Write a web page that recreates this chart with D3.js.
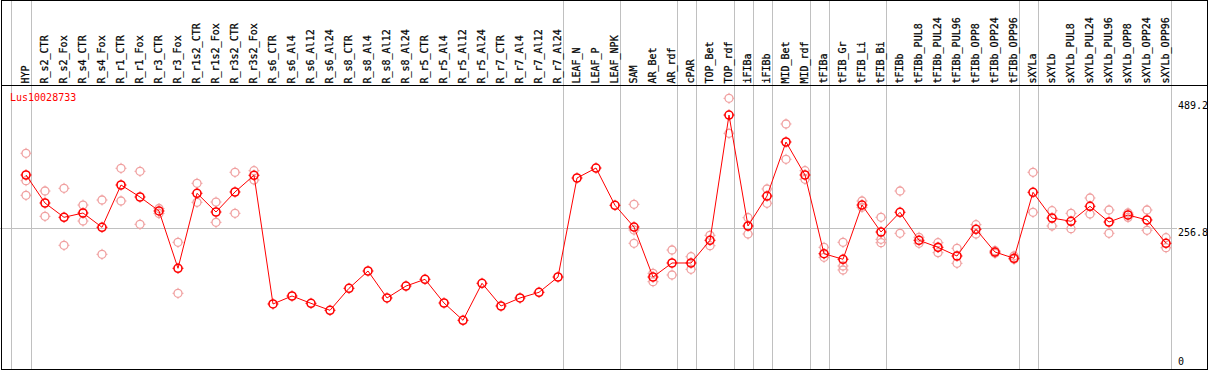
<!DOCTYPE html>
<html>
<head>
<meta charset="utf-8">
<script src="https://cdn.jsdelivr.net/npm/d3@7"></script>
<style>
  body { margin: 0; background: #fff; }
  text { font-family: "DejaVu Sans Mono", monospace; font-size: 10px; }
  .lab { stroke: #000; stroke-width: 0.25px; }
</style>
</head>
<body>
<script>
//sample names along the top
var samples = ["HYP","R_s2_CTR","R_s2_Fox","R_s4_CTR","R_s4_Fox","R_r1_CTR","R_r1_Fox","R_r3_CTR","R_r3_Fox",
    "R_r1s2_CTR","R_r1s2_Fox","R_r3s2_CTR","R_r3s2_Fox","R_s6_CTR","R_s6_Al4","R_s6_Al12","R_s6_Al24",
    "R_s8_CTR","R_s8_Al4","R_s8_Al12","R_s8_Al24","R_r5_CTR","R_r5_Al4","R_r5_Al12","R_r5_Al24",
    "R_r7_CTR","R_r7_Al4","R_r7_Al12","R_r7_Al24","LEAF_N","LEAF_P","LEAF_NPK","SAM","AR_Bet","AR_rdf",
    "cPAR","TOP_Bet","TOP_rdf","iFIBa","iFIBb","MID_Bet","MID_rdf","tFIBa","tFIB_Gr","tFIB_Li","tFIB_Bi",
    "tFIBb","tFIBb_PUL8","tFIBb_PUL24","tFIBb_PUL96","tFIBb_OPP8","tFIBb_OPP24","tFIBb_OPP96",
    "sXYLa","sXYLb","sXYLb_PUL8","sXYLb_PUL24","sXYLb_PUL96","sXYLb_OPP8","sXYLb_OPP24","sXYLb_OPP96"];

//mean expression per sample
var means = [353.6,302.3,276.1,284.0,257.8,335.3,313.3,287.7,182.7,320.1,285.8,322.5,353.1,
    117.3,131.9,118.5,105.7,146.0,177.7,128.3,150.2,162.5,119.1,87.4,155.2,113.6,128.3,138.7,166.7,
    348.1,366.4,298.1,258.3,166.7,192.4,192.4,234.0,463.5,260.2,315.1,414.1,353.6,209.4,199.2,
    298.6,249.2,285.3,234.0,221.1,205.2,254.1,212.5,201.0,321.9,274.8,268.8,296.3,267.5,280.3,
    271.2,228.5];

//individual replicates per sample
var replicates = [
    [393.4,343.2,316.4],[324.3,277.9],[329.2,224.8],[298.6,269.3],[307.8,208.3],[365.9,306.0],
    [360.4,263.3],[292.2,283.1],[230.3,136.9],[338.4,303.6],[304.1,266.9],[358.6,283.4],[361.5,344.5],
    [],[],[],[],[],[],[],[],[],[],[],[],[],[],[],[],[],[],[],
    [299.9,252.8,228.5],[173.5,158.1],[216.2,170.4],[203.9,180.8],[243.1,224.1],[494.1,430.0],
    [275.4,245.5],[328.0,301.8],[447.1,382.4],[361.5,345.7],[221.1,202.8],[230.3,186.9,179.6],
    [306.0,294.4],[276.1,235.8,229.6],[324.3,246.8],[239.5,228.5],[229.6,211.3],[219.3,191.8],
    [262.6,245.5],[214.9,210.2],[205.2,199.2],[358.6,285.3],[288.2,260.2],[283.4,255.2],
    [311.5,282.2],[289.5,246.8],[284.0,276.0],[289.5,252.3],[238.7,220.4]];

//separator lines drawn after these sample indices (-1 = before first)
var separatorsAfter = [-1,0,28,31,34,35,37,38,39,41,42,45,52,53,60];

var yTicks = [489.2, 256.8, 0];
var gridValue = 256.8;
var geneName = "Lus10028733";

var width = 1209, height = 370;

var svg = d3.select("body").append("svg")
    .attr("width", width)
    .attr("height", height);

var x = d3.scalePoint()
    .domain(samples)
    .range([26, 1166]);

var y = d3.scaleLinear()
    .domain([0, 489.2])
    .range([368, 101]);

//group separators
function sepX(i){
    return Math.round(i < 0 ? x(samples[0]) - 15 : x(samples[i]) + 5) + 0.5;
}
svg.selectAll(".sep")
    .data(separatorsAfter)
    .enter()
    .append("line")
    .attr("x1", sepX)
    .attr("x2", sepX)
    .attr("y1", 0)
    .attr("y2", 369)
    .attr("stroke", "#c0c0c0");

//horizontal reference line
svg.append("line")
    .attr("x1", 0).attr("x2", 1177)
    .attr("y1", Math.round(y(gridValue)) + 0.5)
    .attr("y2", Math.round(y(gridValue)) + 0.5)
    .attr("stroke", "#c0c0c0");

//frame
svg.append("rect")
    .attr("x", 1.5).attr("y", 0.5)
    .attr("width", 1206).attr("height", 369)
    .attr("fill", "none")
    .attr("stroke", "#000");
svg.append("line")
    .attr("x1", 1).attr("x2", 1208)
    .attr("y1", 85.5).attr("y2", 85.5)
    .attr("stroke", "#000");

//rotated sample labels
svg.selectAll(".lab")
    .data(samples)
    .enter()
    .append("text")
    .attr("class", "lab")
    .attr("transform", function(d){ return "translate(" + (x(d) + 3.4) + ",83.5) rotate(-90)"; })
    .text(function(d){ return d; });

//right axis labels
svg.selectAll(".tick")
    .data(yTicks)
    .enter()
    .append("text")
    .attr("x", 1178)
    .attr("y", function(d){ return Math.min(y(d) + 8, 365); })
    .text(function(d){ return d; });

svg.append("text")
    .attr("x", 10).attr("y", 101)
    .attr("fill", "#ff0000")
    .text(geneName);

//circle with little cardinal ticks
function marker(g, cx, cy, color, sw){
    g.append("circle")
        .attr("cx", cx).attr("cy", cy).attr("r", 4)
        .attr("fill", "none")
        .attr("stroke", color)
        .attr("stroke-width", sw);
    [[0,-1],[0,1],[-1,0],[1,0]].forEach(function(d){
        g.append("line")
            .attr("x1", cx + d[0]*4).attr("y1", cy + d[1]*4)
            .attr("x2", cx + d[0]*5.5).attr("y2", cy + d[1]*5.5)
            .attr("stroke", color)
            .attr("stroke-width", 1);
    });
}

var reps = svg.append("g");
replicates.forEach(function(vals, i){
    vals.forEach(function(v){
        marker(reps, x(samples[i]), y(v), "#f0a0a0", 1.3);
    });
});

var line = d3.line()
    .x(function(d, i){ return x(samples[i]); })
    .y(function(d){ return y(d); });

svg.append("path")
    .datum(means)
    .attr("d", line)
    .attr("fill", "none")
    .attr("stroke", "#ff0000")
    .attr("stroke-width", 1);

var meanG = svg.append("g");
means.forEach(function(v, i){
    marker(meanG, x(samples[i]), y(v), "#ff0000", 1.6);
});
</script>
</body>
</html>
